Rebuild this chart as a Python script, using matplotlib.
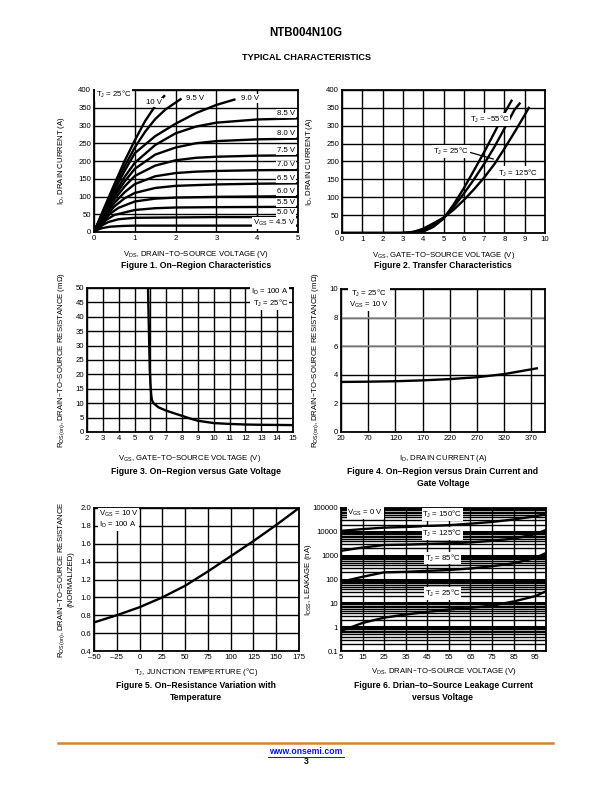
import numpy as np
import matplotlib
matplotlib.use("Agg")
import matplotlib.pyplot as plt

plt.rcParams['font.family'] = ['Liberation Sans', 'DejaVu Sans']
plt.rcParams['mathtext.default'] = 'regular'

W, H = 612, 792

# ---- Figure 1 data: ID vs VDS for each VGS
vgs_labels = ["10 V", "9.5 V", "9.0 V", "8.5 V", "8.0 V", "7.5 V", "7.0 V",
              "6.5 V", "6.0 V", "5.5 V", "5.0 V", "4.5 V"]
f1_vds = [
    [0, 0.25, 0.5, 0.75, 1.0, 1.25, 1.5, 1.72],
    [0, 0.25, 0.5, 0.75, 1.0, 1.25, 1.5, 1.75, 2.12],
    [0, 0.25, 0.5, 0.75, 1.0, 1.5, 2.0, 2.5, 3.0, 3.44],
    [0, 0.25, 0.5, 0.75, 1.0, 1.5, 2.0, 2.5, 3.0, 4.0, 5.0],
    [0, 0.25, 0.5, 0.75, 1.0, 1.5, 2.0, 2.5, 3.0, 4.0, 5.0],
    [0, 0.25, 0.5, 0.75, 1.0, 1.5, 2.0, 2.5, 3.0, 4.0, 5.0],
    [0, 0.25, 0.5, 0.75, 1.0, 1.5, 2.0, 2.5, 3.0, 4.0, 5.0],
    [0, 0.25, 0.5, 0.75, 1.0, 1.5, 2.0, 3.0, 4.0, 5.0],
    [0, 0.2, 0.4, 0.6, 1.0, 1.5, 2.0, 3.0, 4.0, 5.0],
    [0, 0.15, 0.3, 0.5, 1.0, 1.5, 2.0, 3.0, 5.0],
    [0, 0.1, 0.2, 0.35, 0.6, 1.0, 2.0, 3.0, 5.0],
    [0, 0.05, 0.1, 0.2, 0.4, 0.7, 1.0, 3.0, 5.0],
]
f1_id = [
    [0, 68, 135, 200, 258, 312, 355, 383],
    [0, 65, 128, 185, 238, 282, 318, 345, 374],
    [0, 60, 118, 172, 222, 270, 305, 335, 358, 373],
    [0, 56, 108, 155, 195, 245, 278, 297, 308, 317, 320],
    [0, 52, 100, 142, 178, 218, 238, 250, 256, 261, 263],
    [0, 48, 92, 128, 158, 187, 202, 209, 212, 215, 216],
    [0, 44, 82, 112, 135, 157, 166, 170, 172, 174, 175],
    [0, 40, 72, 95, 110, 124, 130, 134, 136, 137],
    [0, 28, 52, 68, 86, 94, 97, 99, 100, 101],
    [0, 18, 34, 48, 62, 67, 69, 70, 71],
    [0, 10, 19, 28, 36, 40, 41, 42, 42],
    [0, 4, 7, 11, 15, 17, 18, 18, 18],
]

# ---- Figure 2 data: ID vs VGS
f2_temps = ["-55", "25", "125"]
f2_vgs = [
    [0, 3.0, 3.5, 4.0, 4.5, 5.0, 5.5, 6.0, 6.5, 7.0, 7.5, 8.0, 8.35],
    [0, 3.0, 3.3, 4.0, 4.5, 5.0, 5.5, 6.0, 6.5, 7.0, 7.5, 8.0, 8.5, 8.75],
    [0, 2.8, 3.0, 3.5, 4.0, 4.5, 5.0, 5.5, 6.0, 6.5, 7.0, 7.5, 8.0, 8.5, 9.0, 9.2],
]
f2_id = [
    [0, 0, 0, 4, 17, 40, 80, 125, 175, 226, 280, 335, 370],
    [0, 0, 1, 8, 22, 42, 73, 110, 150, 193, 240, 292, 345, 362],
    [0, 0, 0.5, 3, 12, 27, 43, 65, 92, 122, 155, 192, 236, 282, 330, 350],
]

# ---- Figure 3 data: RDS(on) vs VGS
f3_vgs = [5.85, 5.88, 5.92, 5.96, 6.0, 6.05, 6.1, 6.2, 6.5, 7.0, 7.5, 8.0, 8.5, 9.0, 10, 11, 12, 13, 14, 15]
f3_r = [50, 42, 32, 22, 17, 13, 11, 10, 8.6, 7.4, 6.5, 5.6, 4.7, 3.9, 3.1, 2.8, 2.6, 2.5, 2.45, 2.4]

# ---- Figure 4 data: RDS(on) vs ID
f4_id = [20, 70, 120, 170, 220, 270, 320, 380]
f4_r = [3.5, 3.52, 3.55, 3.61, 3.7, 3.83, 4.05, 4.45]

# ---- Figure 5 data: normalized RDS(on) vs TJ
f5_tj = [-50, -25, 0, 25, 50, 75, 100, 125, 150, 175]
f5_r = [0.72, 0.80, 0.89, 1.0, 1.13, 1.29, 1.46, 1.63, 1.81, 2.0]

# ---- Figure 6 data: IDSS vs VDS
f6_vds = [5, 15, 25, 35, 45, 55, 65, 75, 85, 95, 100]
f6_idss = [
    [11000, 13000, 15000, 16000, 17500, 19000, 22000, 26000, 33000, 45000, 55000],
    [1600, 2200, 2800, 2900, 3100, 3300, 3600, 4200, 5200, 8000, 12000],
    [80, 130, 200, 210, 230, 250, 290, 360, 480, 800, 1300],
    [0.7, 1.5, 2.5, 3.4, 4.4, 5.5, 6.5, 8.0, 12, 20, 32],
]

fig = plt.figure(figsize=(W / 100, H / 100), dpi=100)

FS_TICK = 5.6
FS_LAB = 5.6
FS_TITLE = 6.2
box = dict(fc='white', ec='none', pad=0.6)


def axes_px(l, t, r, b):
    ax = fig.add_axes([l / W, 1 - b / H, (r - l) / W, (b - t) / H])
    for s in ax.spines.values():
        s.set_linewidth(1.3)
    ax.tick_params(length=0, labelsize=FS_TICK, pad=2)
    ax.grid(True, color='black', lw=1.0)
    ax.set_axisbelow(True)
    return ax


def ftext(x, y, s, **kw):
    fig.text(x / W, 1 - y / H, s, ha='center', va='center', **kw)


# header
ftext(306, 33, "NTB004N10G", fontsize=8.3, fontweight='bold')
ftext(306, 58, "TYPICAL CHARACTERISTICS", fontsize=6.6, fontweight='bold')

# Figure 1
ax1 = axes_px(94, 90, 298, 232)
for v, i in zip(f1_vds, f1_id):
    ax1.plot(v, i, color='black', lw=1.7)
ax1.set_xlim(0, 5)
ax1.set_ylim(0, 400)
ax1.set_xticks(range(6))
ax1.set_yticks(range(0, 401, 50))
ax1.text(0.05, 388, "T$_J$ = 25°C", fontsize=FS_LAB, va='center', bbox=box)
ax1.text(1.28, 364, "10 V", fontsize=FS_LAB, va='center', bbox=box)
ax1.text(2.25, 376, "9.5 V", fontsize=FS_LAB, va='center', bbox=box)
ax1.text(3.6, 376, "9.0 V", fontsize=FS_LAB, va='center', bbox=box)
for lab, yy in zip(vgs_labels[3:11], [333, 278, 230, 189, 150, 113, 84, 55]):
    ax1.text(4.92, yy, lab, fontsize=FS_LAB, va='center', ha='right', bbox=box)
ax1.text(4.92, 26, "V$_{GS}$ = 4.5 V", fontsize=FS_LAB, va='center', ha='right', bbox=box)
ax1.set_ylabel("I$_D$, DRAIN CURRENT (A)", fontsize=FS_LAB, labelpad=8)
ax1.set_xlabel("V$_{DS}$, DRAIN–TO–SOURCE VOLTAGE (V)", fontsize=FS_LAB, labelpad=5)
ftext(196, 265, "Figure 1. On–Region Characteristics", fontsize=FS_TITLE, fontweight='bold')

# Figure 2
ax2 = axes_px(342, 90, 545, 233)
for v, i in zip(f2_vgs, f2_id):
    ax2.plot(v, i, color='black', lw=1.7)
ax2.set_xlim(0, 10)
ax2.set_ylim(0, 400)
ax2.set_xticks(range(11))
ax2.set_yticks(range(0, 401, 50))
ax2.text(6.3, 318, "T$_J$ = –55°C", fontsize=FS_LAB, va='center', bbox=box)
ax2.text(4.5, 228, "T$_J$ = 25°C", fontsize=FS_LAB, va='center', bbox=box)
ax2.plot([6.15, 7.45], [228, 207], color='black', lw=0.9)
ax2.text(7.7, 168, "T$_J$ = 125°C", fontsize=FS_LAB, va='center', bbox=box)
ax2.set_ylabel("I$_D$, DRAIN CURRENT (A)", fontsize=FS_LAB, labelpad=8)
ax2.set_xlabel("V$_{GS}$, GATE–TO–SOURCE VOLTAGE (V)", fontsize=FS_LAB, labelpad=5)
ftext(443, 265, "Figure 2. Transfer Characteristics", fontsize=FS_TITLE, fontweight='bold')

# Figure 3
ax3 = axes_px(87, 288, 293, 432)
ax3.plot(f3_vgs, f3_r, color='black', lw=1.7)
ax3.set_xlim(2, 15)
ax3.set_ylim(0, 50)
ax3.set_xticks(range(2, 16))
ax3.set_yticks(range(0, 51, 5))
ax3.text(14.7, 46.5, "I$_D$ = 100 A\nT$_J$ = 25°C", fontsize=FS_LAB, va='center', ha='right',
         linespacing=1.1, bbox=box)
ax3.set_ylabel("R$_{DS(on)}$, DRAIN–TO–SOURCE RESISTANCE (mΩ)", fontsize=FS_LAB, labelpad=6)
ax3.set_xlabel("V$_{GS}$, GATE–TO–SOURCE VOLTAGE (V)", fontsize=FS_LAB, labelpad=8)
ftext(196, 471, "Figure 3. On–Region versus Gate Voltage", fontsize=FS_TITLE, fontweight='bold')

# Figure 4
ax4 = axes_px(341, 289, 545, 432)
ax4.plot(f4_id, f4_r, color='black', lw=1.7)
ax4.set_xlim(20, 395)
ax4.set_ylim(0, 10)
ax4.set_xticks(range(20, 371, 50))
ax4.set_yticks(range(0, 11, 2))
for yy in [6, 8]:
    ax4.axhline(yy, color='#9a9a9a', lw=1.1, zorder=0.6)
ax4.text(35, 9.3, "T$_J$ = 25°C\nV$_{GS}$ = 10 V", fontsize=FS_LAB, va='center', ha='left',
         linespacing=1.1, multialignment='center', bbox=box)
ax4.set_ylabel("R$_{DS(on)}$, DRAIN–TO–SOURCE RESISTANCE (mΩ)", fontsize=FS_LAB, labelpad=6)
ax4.set_xlabel("I$_D$, DRAIN CURRENT (A)", fontsize=FS_LAB, labelpad=8)
ftext(443, 471, "Figure 4. On–Region versus Drain Current and", fontsize=FS_TITLE, fontweight='bold')
ftext(443, 483, "Gate Voltage", fontsize=FS_TITLE, fontweight='bold')

# Figure 5
ax5 = axes_px(94, 508, 299, 651)
ax5.plot(f5_tj, f5_r, color='black', lw=1.7)
ax5.set_xlim(-50, 175)
ax5.set_ylim(0.4, 2.0)
ax5.set_xticks(range(-50, 176, 25))
ax5.set_xticklabels([str(t).replace('-', '–') for t in range(-50, 176, 25)])
ax5.set_yticks(np.round(np.arange(0.4, 2.01, 0.2), 1))
ax5.yaxis.set_major_formatter(matplotlib.ticker.FormatStrFormatter('%.1f'))
ax5.text(-45, 1.87, "V$_{GS}$ = 10 V\nI$_D$ = 100 A", fontsize=FS_LAB, va='center', ha='left',
         linespacing=1.1, bbox=box)
ax5.set_ylabel("R$_{DS(on)}$, DRAIN–TO–SOURCE RESISTANCE\n(NORMALIZED)", fontsize=FS_LAB,
               labelpad=4, linespacing=1.2)
ax5.set_xlabel("T$_J$, JUNCTION TEMPERTURE (°C)", fontsize=FS_LAB, labelpad=4)
ftext(196, 685, "Figure 5. On–Resistance Variation with", fontsize=FS_TITLE, fontweight='bold')
ftext(196, 697, "Temperature", fontsize=FS_TITLE, fontweight='bold')

# Figure 6
ax6 = axes_px(341, 508, 546, 651)
for i in f6_idss:
    ax6.plot(f6_vds, i, color='black', lw=1.7)
ax6.set_yscale('log')
ax6.set_xlim(5, 100)
ax6.set_ylim(0.1, 100000)
ax6.set_xticks(range(5, 96, 10))
ax6.yaxis.set_minor_locator(matplotlib.ticker.LogLocator(base=10, subs=np.arange(2, 10), numticks=20))
ax6.yaxis.set_minor_formatter(matplotlib.ticker.NullFormatter())
ax6.set_yticks([0.1, 1, 10, 100, 1000, 10000, 100000])
ax6.set_yticklabels(["0.1", "1", "10", "100", "1000", "10000", "100000"])
ax6.tick_params(which='minor', length=0)
ax6.grid(True, which='minor', axis='y', color='black', lw=1.0)
ax6.grid(True, which='major', axis='y', color='black', lw=2.2)
ax6.text(8, 60000, "V$_{GS}$ = 0 V", fontsize=FS_LAB, va='center', bbox=box)
for lab, yy in zip(["150", "125", "85", "25"], [52000, 8500, 800, 25]):
    ax6.text(52, yy, "T$_J$ = " + lab + "°C", fontsize=FS_LAB, va='center', ha='center', bbox=box)
ax6.set_ylabel("I$_{DSS}$, LEAKAGE (nA)", fontsize=FS_LAB)
ax6.yaxis.set_label_coords((314 - 341) / 205, 0.5)
ax6.set_xlabel("V$_{DS}$, DRAIN–TO–SOURCE VOLTAGE (V)", fontsize=FS_LAB, labelpad=4)
ftext(443, 685, "Figure 6. Drian–to–Source Leakage Current", fontsize=FS_TITLE, fontweight='bold')
ftext(443, 697, "versus Voltage", fontsize=FS_TITLE, fontweight='bold')

# footer
fig.add_artist(plt.Line2D([58 / W, 553 / W], [1 - 743 / H, 1 - 743 / H], color='#d9822b', lw=1.8))
ftext(306, 752, "www.onsemi.com", fontsize=6.2, fontweight='bold', color='#1010e0')
fig.add_artist(plt.Line2D([268 / W, 344 / W], [1 - 756.5 / H, 1 - 756.5 / H], color='#1010e0', lw=0.7))
ftext(306, 762, "3", fontsize=6.2, fontweight='bold')

fig.savefig("out.png", dpi=100)
